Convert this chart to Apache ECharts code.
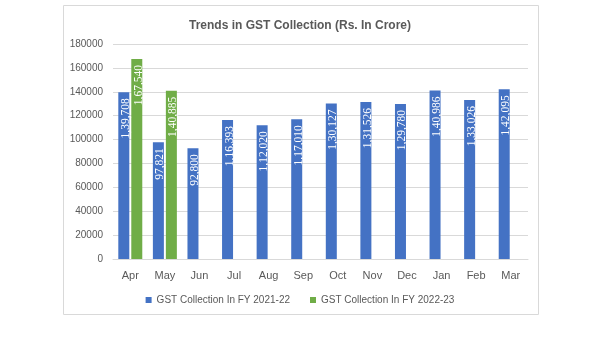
<!DOCTYPE html>
<html><head><meta charset="utf-8">
<script src="https://cdn.jsdelivr.net/npm/echarts@6/dist/echarts.min.js"></script>
<style>html,body{margin:0;padding:0;background:#fff;}#c{width:600px;height:338px;}</style>
</head><body><div id="c"></div>
<script>
const categories = ['Apr','May','Jun','Jul','Aug','Sep','Oct','Nov','Dec','Jan','Feb','Mar'];
const fy2122 = [139708, 97821, 92800, 116393, 112020, 117010, 130127, 131526, 129780, 140986, 133026, 142095];
const fy2223 = [167540, 140885, null, null, null, null, null, null, null, null, null, null];
const seriesNames = ['GST Collection In FY 2021-22', 'GST Collection In FY 2022-23'];

function indianFormat(v){
  const s = String(Math.round(v));
  if (s.length <= 3) return s;
  const last3 = s.slice(-3);
  let rest = s.slice(0, -3);
  const parts = [];
  while (rest.length > 2) { parts.unshift(rest.slice(-2)); rest = rest.slice(0, -2); }
  if (rest.length) parts.unshift(rest);
  return parts.join(',') + ',' + last3;
}

const labelCfg = {
  show: true, position: 'insideTop', rotate: 90, align: 'right', verticalAlign: 'middle',
  distance: 6, offset: [0, 2], color: '#fff', fontFamily: 'Liberation Serif', fontSize: 11.5, lineHeight: 12,
  formatter: p => p.value == null ? '' : indianFormat(p.value)
};

const chart = echarts.init(document.getElementById('c'), null, {renderer: 'canvas'});
chart.setOption({
  animation: false,
  graphic: [{type: 'rect', shape: {x: 63.5, y: 5.5, width: 475, height: 309}, style: {fill: 'none', stroke: '#d9d9d9', lineWidth: 1}, z: -1}],
  title: {text: 'Trends in GST Collection (Rs. In Crore)', left: 'center', top: 15,
    textStyle: {fontFamily: 'Liberation Sans', fontSize: 12, fontWeight: 'bold', color: '#595959'}},
  legend: {bottom: 28, left: 'center', itemWidth: 6, itemHeight: 6, itemGap: 20, icon: 'rect',
    textStyle: {fontFamily: 'Liberation Sans', fontSize: 10, color: '#595959'}},
  grid: {left: 113, right: 72, top: 44, bottom: 79},
  xAxis: {type: 'category', data: categories,
    axisLine: {lineStyle: {color: '#d9d9d9'}}, axisTick: {show: false},
    axisLabel: {color: '#595959', fontFamily: 'Liberation Sans', fontSize: 11, margin: 11}},
  yAxis: {type: 'value', min: 0, max: 180000, interval: 20000,
    axisLine: {show: false}, axisTick: {show: false},
    splitLine: {lineStyle: {color: '#d9d9d9'}},
    axisLabel: {color: '#595959', fontFamily: 'Liberation Sans', fontSize: 10, margin: 10, formatter: v => String(v)}},
  series: [
    {name: seriesNames[0], type: 'bar', data: fy2122, barWidth: 11, barGap: '18%', itemStyle: {color: '#4472C4'}, label: labelCfg},
    {name: seriesNames[1], type: 'bar', data: fy2223, barWidth: 11, itemStyle: {color: '#70AD47'}, label: labelCfg}
  ]
});
</script></body></html>
